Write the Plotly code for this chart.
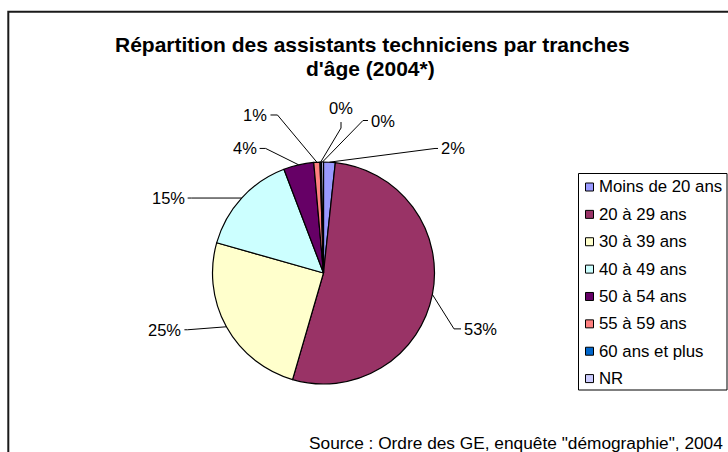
import math
import plotly.graph_objects as go

# ---------------- data ----------------
categories = ["Moins de 20 ans", "20 à 29 ans", "30 à 39 ans", "40 à 49 ans",
              "50 à 54 ans", "55 à 59 ans", "60 ans et plus", "NR"]
values = [1.7, 52.8, 24.9, 14.8, 4.4, 0.9, 0.2, 0.3]
colors = ["#9999FF", "#993366", "#FFFFCC", "#CCFFFF",
          "#660066", "#FF8080", "#0066CC", "#CCCCFF"]
title_lines = ["Répartition des assistants techniciens par tranches", "d'âge (2004*)"]
source_text = 'Source : Ordre des GE, enquête "démographie", 2004'

# ---------------- layout parameters (pixels, page coordinates) ----------------
OFF = 0                 # page body margin removed via post_script
W, H = 728, 452
CX, CY, R = 323.5, 273.0, 111.0
FONT = "Liberation Sans, Arial, sans-serif"
# label placement: offset of text anchor from slice edge point, side, elbow length
label_layout = [
    (110.6, -13.7, "right", 3),
    (30.6, 34.4, "right", 7),
    (-44.0, 3.0, "left", 3),
    (-56.0, 0.0, "left", 4),
    (-41.0, -16.4, "left", 6),
    (-48.4, -47.2, "left", 7),
    (20.3, -54.5, "top", 6),
    (47.5, -41.5, "right", 5),
]


def px(x):
    return (x - OFF) / W


def py(y):
    return 1 - (y - OFF) / H


fig = go.Figure()
fig.add_trace(go.Pie(
    labels=categories, values=values, sort=False, direction="clockwise", rotation=0,
    marker=dict(colors=colors, line=dict(color="black", width=1.2)),
    textinfo="none", hoverinfo="label+percent", showlegend=False,
    domain=dict(x=[px(CX - R), px(CX + R)], y=[py(CY + R), py(CY - R)]),
))

shapes = []
annotations = []

# frame (top + left edges visible)
shapes.append(dict(type="path", xref="paper", yref="paper",
                   path=f"M {px(8.3)},{py(470)} L {px(8.3)},{py(11.8)} L {px(760)},{py(11.8)}",
                   line=dict(color="#1a1a1a", width=2)))

# labels with leader lines
total = sum(values)
cum = 0.0
for v, (dx, dy, side, h) in zip(values, label_layout):
    mid = (cum + v / 2) / total * 2 * math.pi
    cum += v
    ex, ey = CX + R * math.sin(mid), CY - R * math.cos(mid)
    tx, ty = ex + dx, ey + dy
    pct = f"{round(v / total * 100)}%"
    if side == "right":
        cxp, cyp = tx - 2, ty
        bx, by = cxp - h, cyp
        xa = "left"
    elif side == "left":
        cxp, cyp = tx + 2, ty
        bx, by = cxp + h, cyp
        xa = "right"
    else:
        cxp, cyp = tx, ty + 14.5
        bx, by = cxp, cyp + h
        xa = "center"
    shapes.append(dict(type="path", xref="paper", yref="paper",
                       path=f"M {px(ex)},{py(ey)} L {px(bx)},{py(by)} L {px(cxp)},{py(cyp)}",
                       line=dict(color="black", width=1)))
    annotations.append(dict(x=px(tx), y=py(ty), xref="paper", yref="paper",
                            text=pct, showarrow=False, xanchor=xa, yanchor="middle",
                            font=dict(family=FONT, size=16.5, color="black"), borderpad=0))

# title
annotations.append(dict(x=px(373), y=py(44), xref="paper", yref="paper", text=f"<b>{title_lines[0]}</b>",
                        showarrow=False, xanchor="center", yanchor="middle",
                        font=dict(family=FONT, size=21, color="black")))
annotations.append(dict(x=px(370), y=py(68), xref="paper", yref="paper", text=f"<b>{title_lines[1]}</b>",
                        showarrow=False, xanchor="center", yanchor="middle",
                        font=dict(family=FONT, size=21, color="black")))

# source
annotations.append(dict(x=px(724), y=py(443), xref="paper", yref="paper", text=source_text,
                        showarrow=False, xanchor="right", yanchor="middle",
                        font=dict(family=FONT, size=17.3, color="black"), borderpad=0))

# legend (drawn manually to match spacing)
LX0, LY0, LX1, LY1 = 578.5, 173.5, 727.0, 390.0
shapes.append(dict(type="rect", xref="paper", yref="paper",
                   x0=px(LX0), x1=px(LX1), y0=py(LY1), y1=py(LY0),
                   line=dict(color="black", width=1), fillcolor="white", layer="below"))
for i, (cat, col) in enumerate(zip(categories, colors)):
    yc = 187.0 + i * 27.37
    shapes.append(dict(type="rect", xref="paper", yref="paper",
                       x0=px(585.5), x1=px(593.5), y0=py(yc + 4), y1=py(yc - 4),
                       line=dict(color="black", width=1), fillcolor=col))
    annotations.append(dict(x=px(598), y=py(yc), xref="paper", yref="paper", text=cat,
                            showarrow=False, xanchor="left", yanchor="middle",
                            font=dict(family=FONT, size=16.8, color="black"), borderpad=0))

fig.update_layout(
    width=W, height=H, margin=dict(l=0, r=0, t=0, b=0),
    paper_bgcolor="white", plot_bgcolor="white",
    shapes=shapes, annotations=annotations, showlegend=False,
)

fig.write_html(
    "out.html",
    config={"displayModeBar": False},
    post_script="document.body.style.margin='0';document.body.style.overflow='hidden';",
)
